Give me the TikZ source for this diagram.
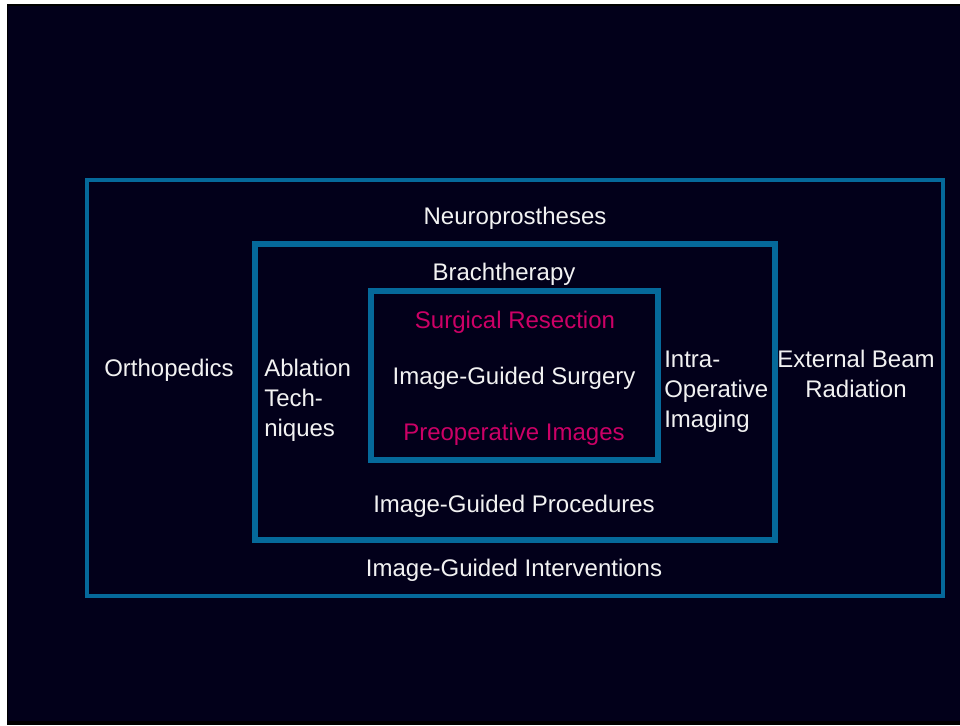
\documentclass[tikz,border=0pt]{standalone}
\usepackage{fontspec}
\setmainfont{Liberation Sans}
\usetikzlibrary{positioning}
\definecolor{slidebg}{HTML}{02001A}
\definecolor{frameblue}{HTML}{05699A}
\definecolor{hotpink}{HTML}{CC0066}
\definecolor{paper}{HTML}{F2F2F2}

\begin{document}
\begin{tikzpicture}[x=0.75pt, y=-0.75pt,
    frame/.style={draw=frameblue, line width=4.5pt},
    boxtext/.style={text=paper, font=\fontsize{18}{22.5}\selectfont, inner sep=0pt, anchor=base},
    redtext/.style={boxtext, text=hotpink}]
    % Slide background
    \useasboundingbox (0,0) rectangle (960,725);
    \fill[white] (0,0) rectangle (960,725);
    \fill[black] (7,4) rectangle (960,725);
    \fill[slidebg] (8,6) rectangle (960,721);

    % Nested frames
    \draw[frame, line width=3pt] (87,180) rectangle (943,596);
    \draw[frame] (255,244) rectangle (775,540);
    \draw[frame] (371,291) rectangle (658,460);

    % Outer ring
    \node[boxtext] (neuro) at (515,224) {Neuroprostheses};
    \node[boxtext] (ortho) at (169,376) {Orthopedics};
    \node[boxtext, align=center] (beam) at (856,397) {External Beam\\Radiation};
    \node[boxtext] (igi) at (514,576) {Image-Guided Interventions};

    % Middle ring
    \node[boxtext] (brachy) at (504,280) {Brachtherapy};
    \node[boxtext, anchor=base west, align=left] (ablation) at (264,436) {Ablation\\Tech-\\niques};
    \node[boxtext, anchor=base west, align=left] (intraop) at (664,427) {Intra-\\Operative\\Imaging};
    \node[boxtext] (igp) at (514,512) {Image-Guided Procedures};

    % Inner box
    \node[redtext] (resection) at (515,328) {Surgical Resection};
    \node[boxtext] (igs) at (514,384) {Image-Guided Surgery};
    \node[redtext] (preop) at (514,440) {Preoperative Images};
\end{tikzpicture}
\end{document}
